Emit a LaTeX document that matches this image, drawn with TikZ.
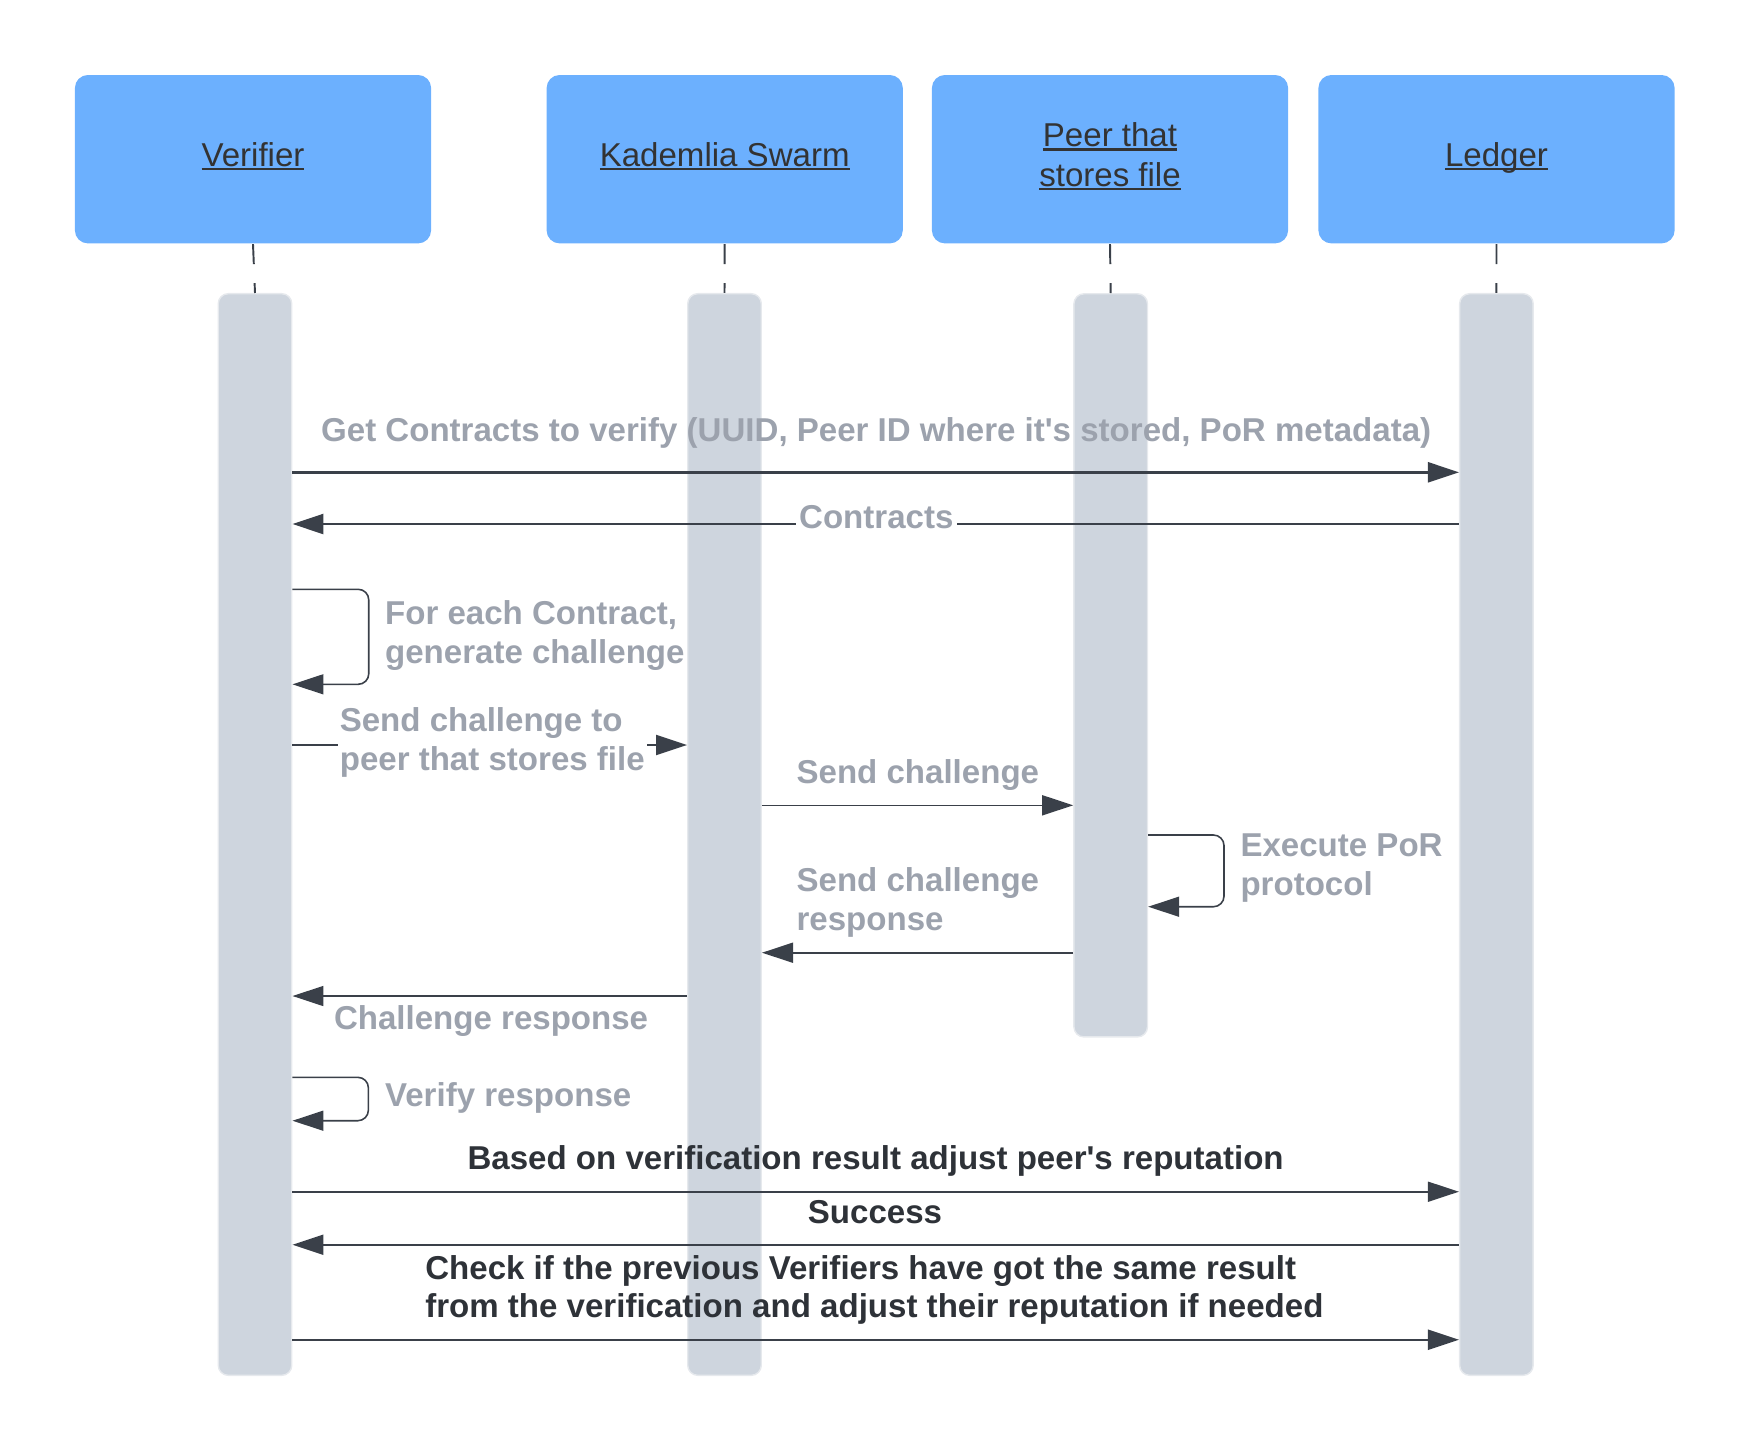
\documentclass[tikz,border=0pt]{standalone}
\usepackage{fontspec}
\setmainfont{Liberation Sans}
\usetikzlibrary{arrows.meta}
\newsavebox\myulbox
\newcommand\myul[1]{\sbox\myulbox{#1}\rlap{\rule[-1.1pt]{\wd\myulbox}{0.65pt}}\usebox\myulbox\rule[-2.6pt]{0pt}{2.6pt}}
\definecolor{hdr}{HTML}{6CB0FE}
\definecolor{lanec}{HTML}{CED5DE}
\definecolor{laneb}{HTML}{E6E9ED}
\definecolor{arrc}{HTML}{3A4049}
\definecolor{lblgray}{HTML}{9CA2AD}
\definecolor{lbldark}{HTML}{2E3238}
\definecolor{hdrtext}{HTML}{333333}
\begin{document}
\begin{tikzpicture}[x=0.01cm,y=-0.01cm,
  header/.style={fill=hdr, rounded corners=3.7pt, minimum width=3.56cm, minimum height=1.683cm, inner sep=0pt, text=hdrtext, font=\fontsize{9.4pt}{11.3pt}\selectfont, align=center},
  lane/.style={fill=lanec, draw=laneb, line width=0.4pt, rounded corners=2.85pt, minimum width=0.735cm, inner sep=0pt},
  life/.style={draw=arrc, line width=0.55pt, dash pattern=on 5.7pt off 5.4pt},
  msg/.style={draw=arrc, line width=0.7pt, -{Triangle[length=0.31cm,width=0.2cm]}},
  msgthin/.style={msg, line width=0.45pt},
  selfmsg/.style={msg, line width=0.45pt, rounded corners=3pt},
  glabel/.style={text=lblgray, font=\fontsize{9.4pt}{10.9pt}\selectfont\bfseries, inner sep=0pt, align=left},
  dlabel/.style={glabel, text=lbldark},
]
\useasboundingbox (0,0) rectangle (1749,1451);
% participants
\node[header] (ver) at (253,159.2) {\myul{Verifier}};
\node[header] (kad) at (724.7,159.2) {\myul{Kademlia Swarm}};
\node[header] (peer) at (1110,159.2) {\myul{Peer that}\\\myul{stores file}};
\node[header] (led) at (1496.5,159.2) {\myul{Ledger}};
% activation bars
\node[lane, minimum height=10.81cm] (verL) at (255,834.5) {};
\node[lane, minimum height=10.81cm] (kadL) at (724.5,834.5) {};
\node[lane, minimum height=7.427cm] (peerL) at (1110.7,665.35) {};
\node[lane, minimum height=10.81cm] (ledL) at (1496.4,834.5) {};
% lifelines
\draw[life] (ver.south) -- (verL.north);
\draw[life] (kad.south) -- (kadL.north);
\draw[life] (peer.south) -- (peerL.north);
\draw[life] (led.south) -- (ledL.north);
% messages
\draw[msg] (verL.east |- 0,472.3) -- (ledL.west |- 0,472.3);
\node[glabel, anchor=base] (l1) at (876.2,441.7) {Get Contracts to verify (UUID, Peer ID where it\textquotesingle s stored, PoR metadata)};
\draw[msg] (ledL.west |- 0,524) -- (verL.east |- 0,524);
\node[glabel, fill=white, inner xsep=1pt, anchor=base] (l2) at (876.3,528.3) {Contracts};
\draw[selfmsg] (verL.east |- 0,589.3) -- (368.75,589.3) -- (368.75,684.3) -- (verL.east |- 0,684.3);
\node[glabel, anchor=base west] (l3) at (384.4,663.3) {For each Contract,\\generate challenge};
\draw[msg, line width=0.55pt] (verL.east |- 0,745) -- (kadL.west |- 0,745);
\node[glabel, fill=white, inner sep=0.6pt, anchor=base west] (l4) at (337,770) {Send challenge to\\peer that stores file};
\draw[msgthin] (kadL.east |- 0,805.3) -- (peerL.west |- 0,805.3);
\node[glabel, anchor=base west] (l5) at (795.9,783.3) {Send challenge};
\draw[selfmsg] (peerL.east |- 0,835) -- (1224,835) -- (1224,906.7) -- (peerL.east |- 0,906.7);
\node[glabel, anchor=base west] (l6) at (1239.8,895) {Execute PoR\\protocol};
\draw[msgthin] (peerL.west |- 0,952.7) -- (kadL.east |- 0,952.7);
\node[glabel, anchor=base west] (l7) at (795.9,930) {Send challenge\\response};
\draw[msgthin] (kadL.west |- 0,996) -- (verL.east |- 0,996);
\node[glabel, anchor=base west] (l8) at (333.3,1029) {Challenge response};
\draw[selfmsg] (verL.east |- 0,1077.3) -- (368.4,1077.3) -- (368.4,1120.7) -- (verL.east |- 0,1120.7);
\node[glabel, anchor=base west] (l9) at (384.4,1106) {Verify response};
\draw[msgthin] (verL.east |- 0,1191.7) -- (ledL.west |- 0,1191.7);
\node[dlabel, anchor=base] (l10) at (875.6,1169) {Based on verification result adjust peer\textquotesingle s reputation};
\draw[msg, line width=0.6pt] (ledL.west |- 0,1244.7) -- (verL.east |- 0,1244.7);
\node[dlabel, anchor=base] (l11) at (875,1223.3) {Success};
\draw[msg, line width=0.6pt] (verL.east |- 0,1339.7) -- (ledL.west |- 0,1339.7);
\node[dlabel, anchor=base west] (l12) at (424.6,1317.7) {Check if the previous Verifiers have got the same result\\from the verification and adjust their reputation if needed};
\end{tikzpicture}
\end{document}
